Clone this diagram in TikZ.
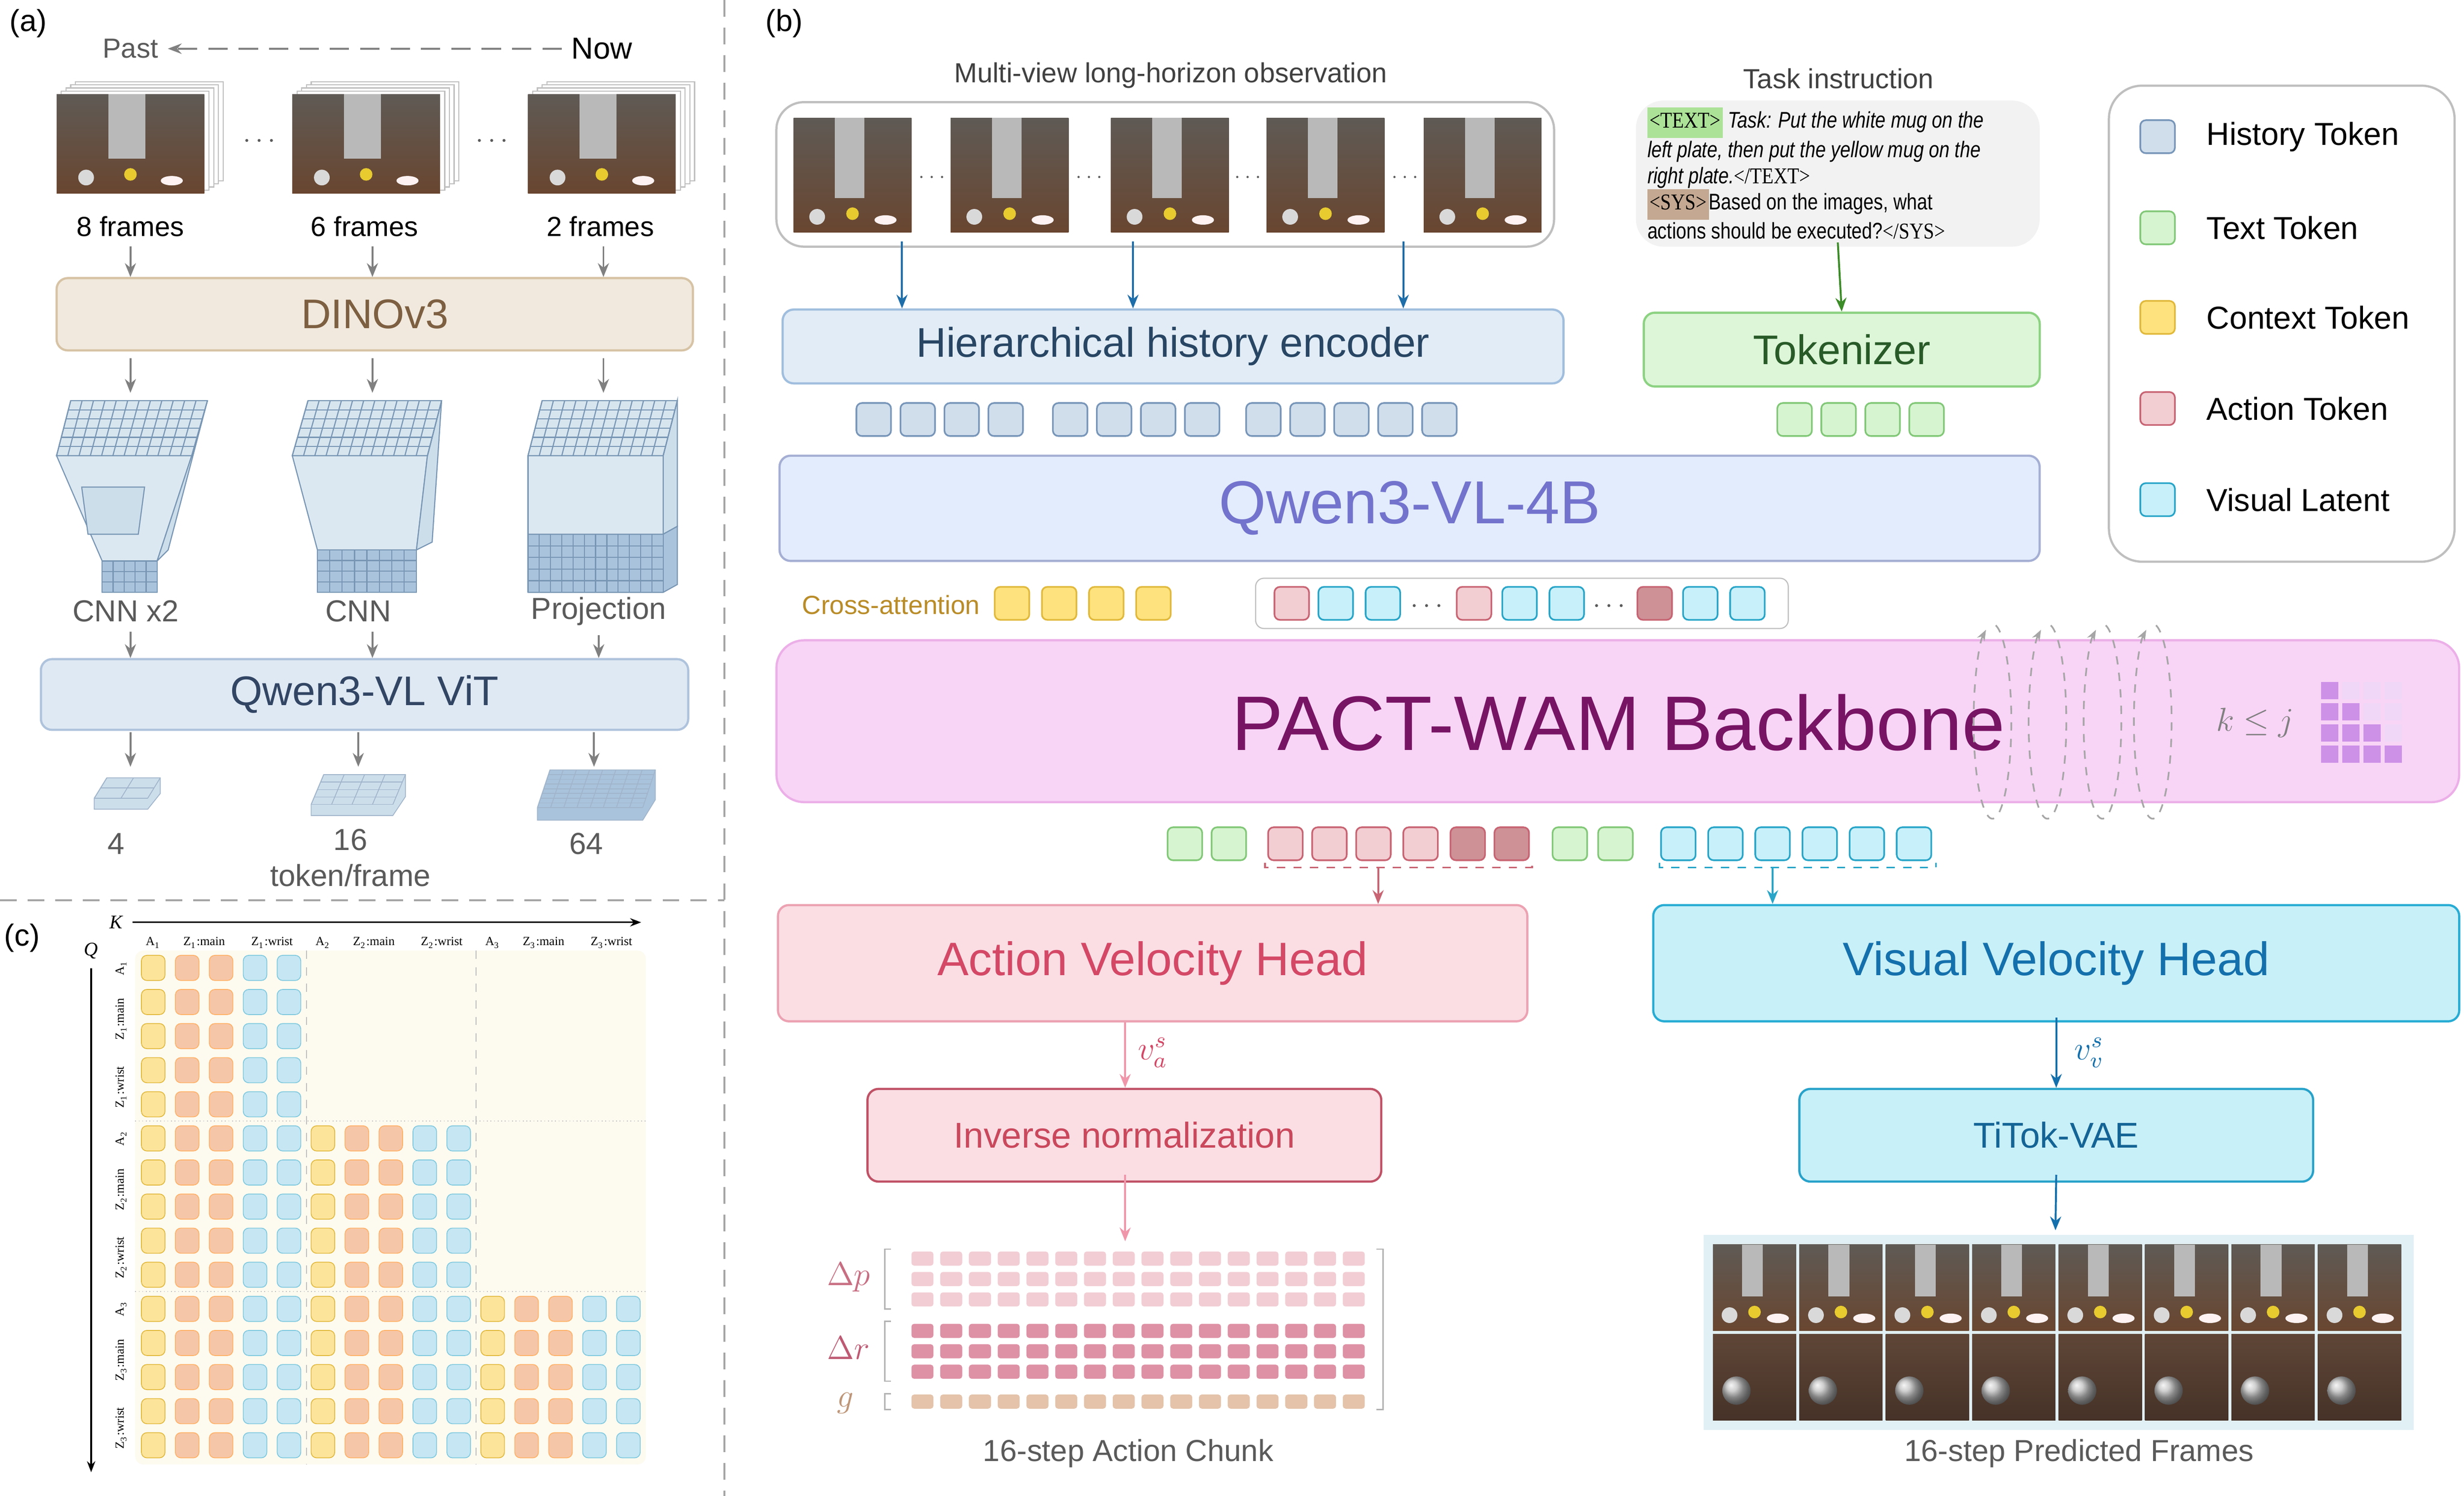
\documentclass[tikz,border=0pt]{standalone}
\usepackage{fontspec}
\setmainfont{Liberation Sans}
\newfontfamily\tms{Liberation Serif}
\newfontfamily\narrow{Liberation Sans}[FakeStretch=0.82]
\newfontfamily\tmsn{Liberation Serif}[FakeStretch=0.85]
\usetikzlibrary{calc,arrows.meta,shapes.geometric}
\definecolor{gtxt}{RGB}{90,90,90}
\definecolor{hisF}{RGB}{208,222,236}\definecolor{hisD}{RGB}{120,150,185}
\definecolor{txtF}{RGB}{214,244,208}\definecolor{txtD}{RGB}{130,200,120}
\definecolor{ctxF}{RGB}{253,226,125}\definecolor{ctxD}{RGB}{225,185,60}
\definecolor{actF}{RGB}{242,205,210}\definecolor{actD}{RGB}{200,100,115}
\definecolor{actK}{RGB}{205,145,150}
\definecolor{visF}{RGB}{200,240,250}\definecolor{visD}{RGB}{40,165,200}
\definecolor{mY}{RGB}{253,228,155}\definecolor{mO}{RGB}{246,198,168}\definecolor{mB}{RGB}{198,230,243}
\definecolor{cube}{RGB}{205,222,235}\definecolor{cubeD}{RGB}{120,150,180}
\definecolor{cubeM}{RGB}{170,195,220}
\definecolor{mbg}{RGB}{253,250,240}
\definecolor{blueA}{RGB}{30,110,170}\definecolor{greenA}{RGB}{60,140,40}
\definecolor{pinkA}{RGB}{240,150,170}\definecolor{blueB}{RGB}{20,112,172}
\definecolor{cp}{RGB}{242,205,212}\definecolor{cr}{RGB}{222,145,165}\definecolor{cg}{RGB}{228,195,170}
\definecolor{mlight}{RGB}{240,215,248}\definecolor{mdark}{RGB}{205,145,232}
\definecolor{pfbg}{RGB}{225,240,245}
\definecolor{sceneT}{RGB}{95,90,85}\definecolor{sceneB}{RGB}{105,70,48}
\definecolor{fT}{RGB}{95,70,55}\definecolor{fB}{RGB}{70,50,40}
\definecolor{tagG}{RGB}{172,226,152}\definecolor{tagS}{RGB}{196,168,145}
\tikzset{
 box/.style={draw,rounded corners=4pt,line width=0.8pt,inner sep=0pt},
 arr/.style={-{Stealth[length=5pt,width=4pt]},line width=0.7pt},
 lab/.style={font=\fontsize{10}{12}\selectfont,text=black},
 glab/.style={font=\fontsize{10}{12}\selectfont,text=gtxt},
 panel/.style={font=\fontsize{11}{13}\selectfont},
}
\newcommand\tok[3]{\draw[rounded corners=2pt,fill=#3F,draw=#3D,line width=0.6pt] (#1-11,#2-10.5) rectangle (#1+11,#2+10.5);}
\newcommand\tokc[4]{\draw[rounded corners=2pt,fill=#3,draw=#4,line width=0.6pt] (#1-11,#2-10.5) rectangle (#1+11,#2+10.5);}
\newcommand\scene[4]{%
 \shade[top color=sceneT,bottom color=sceneB] (#1,#2) rectangle (#3,#4);
 \fill[gray!55] ($(#1,#2)!0.35!(#3,#2)$) rectangle ($(#1,#4)!0.6!(#3,#4)+(0,-22)$);
 \fill[gray!30] ($(#1,#4)!0.2!(#3,#4)+(0,-10)$) circle (5);
 \fill[yellow!60!brown] ($(#1,#4)!0.5!(#3,#4)+(0,-12)$) circle (4);
 \fill[white!80!pink] ($(#1,#4)!0.78!(#3,#4)+(0,-8)$) ellipse (7 and 3);
}
\newcommand\qgrid[6]{%
 \foreach \i in {0,...,#5}{\pgfmathsetmacro\t{\i/#5}\draw ($#1!\t!#2$) -- ($#4!\t!#3$);}
 \foreach \i in {0,...,#6}{\pgfmathsetmacro\t{\i/#6}\draw ($#1!\t!#4$) -- ($#2!\t!#3$);}
}
\newcommand\tag[2]{{\setlength\fboxsep{0.8pt}\colorbox{#1}{\tmsn\strut #2}}}
\begin{document}
\begin{tikzpicture}[x=0.02cm,y=-0.02cm]
\useasboundingbox[fill=white] (0,0) rectangle (1568,952);
% separators
\draw[gray!70,line width=0.8pt,dash pattern=on 6pt off 4pt] (461,0) -- (461,952);
\draw[gray!70,line width=0.8pt,dash pattern=on 6pt off 4pt] (0,573) -- (461,573);
%================ (a)
\node[panel] (pa) at (18,15) {(a)};
\node[glab] (past) at (83,31) {Past};
\node[font=\fontsize{11}{13}\selectfont] (now) at (383,31) {Now};
\draw[gray,line width=0.8pt,dash pattern=on 7pt off 4pt,-{Stealth[length=5pt]}] (now.west) -- (past.east);
\foreach \x/\n in {36/8,186/6,336/2}{
  \foreach \k in {4,3,2,1}{\draw[gray!50,fill=white] (\x+\k*3,60-\k*2) rectangle (\x+94+\k*3,123-\k*2);}
  \scene{\x}{60}{\x+94}{123}
}
\node[gtxt] (d1) at (165,90) {$\cdots$};
\node[gtxt] (d2) at (313,90) {$\cdots$};
\node[lab] (f8) at (83,144) {8 frames};
\node[lab] (f6) at (232,144) {6 frames};
\node[lab] (f2) at (382,144) {2 frames};
\node[box,fill={rgb,255:red,241;green,233;blue,221},draw={rgb,255:red,215;green,195;blue,165},minimum width=8.1cm,minimum height=0.92cm,text={rgb,255:red,125;green,95;blue,65},font=\fontsize{15}{17}\selectfont] (dino) at (238.5,200) {DINOv3};
\foreach \x/\f in {83/f8,237/f6,384/f2}{\coordinate (c\x) at (\x,0);\draw[arr,gray] (\f.south -| c\x) -- (dino.north -| c\x);}
% prisms
\begin{scope}[draw=cubeD,line width=0.4pt]
\filldraw[fill=cube!70] (36,290) -- (122,290) -- (100,357) -- (65,357) -- cycle;
\filldraw[fill=cube] (122,290) -- (132,255) -- (107,350) -- (100,357) -- cycle;
\filldraw[fill=cube!80] (36,290) -- (45,255) -- (132,255) -- (122,290) -- cycle;
\qgrid{(45,255)}{(132,255)}{(122,290)}{(36,290)}{12}{6}
\filldraw[fill=cube] (52,310) -- (92,310) -- (88,340) -- (56,340) -- cycle;
\filldraw[fill=cubeM] (65,357) -- (100,357) -- (100,377) -- (65,377) -- cycle;
\qgrid{(65,357)}{(100,357)}{(100,377)}{(65,377)}{5}{3}
\filldraw[fill=cube!70] (186,290) -- (272,290) -- (265,350) -- (202,350) -- cycle;
\filldraw[fill=cube] (272,290) -- (281,255) -- (275,345) -- (265,350) -- cycle;
\filldraw[fill=cube!80] (186,290) -- (196,255) -- (281,255) -- (272,290) -- cycle;
\qgrid{(196,255)}{(281,255)}{(272,290)}{(186,290)}{12}{6}
\filldraw[fill=cubeM] (202,350) -- (265,350) -- (265,377) -- (202,377) -- cycle;
\qgrid{(202,350)}{(265,350)}{(265,377)}{(202,377)}{8}{4}
\filldraw[fill=cube!70] (336,290) -- (422,290) -- (422,340) -- (336,340) -- cycle;
\filldraw[fill=cube] (422,290) -- (431,255) -- (431,335) -- (422,340) -- cycle;
\filldraw[fill=cube!80] (336,290) -- (345,255) -- (431,255) -- (422,290) -- cycle;
\qgrid{(345,255)}{(431,255)}{(422,290)}{(336,290)}{12}{6}
\filldraw[fill=cubeM] (336,340) -- (422,340) -- (431,335) -- (431,372) -- (422,377) -- (336,377) -- cycle;
\qgrid{(336,340)}{(422,340)}{(422,377)}{(336,377)}{12}{5}
\end{scope}
\foreach \x in {83,237,384}{\draw[arr,gray] (\x,228) -- (\x,250);}
\node[glab,font=\fontsize{11}{13}\selectfont] (l1) at (80,389) {CNN x2};
\node[glab,font=\fontsize{11}{13}\selectfont] (l2) at (228,389) {CNN};
\node[glab,font=\fontsize{11}{13}\selectfont] (l3) at (381,389) {Projection};
\node[box,fill={rgb,255:red,223;green,233;blue,244},draw={rgb,255:red,175;green,195;blue,220},minimum width=8.24cm,minimum height=0.9cm,text={rgb,255:red,50;green,70;blue,100},font=\fontsize{15}{17}\selectfont] (vit) at (232,442) {Qwen3-VL ViT};
\foreach \x/\f in {83/l1,237/l2,381/l3}{\coordinate (e\x) at (\x,0);\draw[arr,gray] (\f.south -| e\x) -- (vit.north -| e\x);}
\foreach \x in {83,228,378}{\draw[arr,gray] (\x,466) -- (\x,488);}
\begin{scope}[draw=cubeD!70,line width=0.3pt]
\filldraw[fill=cube] (60,508) -- (68,495) -- (102,495) -- (102,505) -- (94,515) -- (60,515) -- cycle;
\qgrid{(68,495)}{(102,495)}{(94,508)}{(60,508)}{2}{2}
\filldraw[fill=cube] (198,512) -- (206,493) -- (258,493) -- (258,507) -- (250,519) -- (198,519) -- cycle;
\qgrid{(206,493)}{(258,493)}{(250,512)}{(198,512)}{4}{4}
\filldraw[fill=cubeM] (342,514) -- (350,490) -- (417,490) -- (417,509) -- (409,522) -- (342,522) -- cycle;
\qgrid{(350,490)}{(417,490)}{(409,514)}{(342,514)}{8}{8}
\end{scope}
\node[glab,font=\fontsize{11}{13}\selectfont] (n4) at (74,537) {4};
\node[glab,font=\fontsize{11}{13}\selectfont,align=center] (n16) at (223,546) {16\\token/frame};
\node[glab,font=\fontsize{11}{13}\selectfont] (n64) at (373,537) {64};
%================ (c)
\node[panel] (pc) at (14,597) {(c)};
\node[font=\tms\itshape\fontsize{7}{8}\selectfont] (K) at (74,587) {K};
\draw[-{Stealth[length=4pt]},line width=0.6pt] (K.east) -- (408,587);
\node[font=\tms\itshape\fontsize{7}{8}\selectfont] (Q) at (58,605) {Q};
\draw[-{Stealth[length=4pt]},line width=0.6pt] (Q.south) -- (58,937);
\fill[rounded corners=3pt,mbg] (86,605) rectangle (411,932);
\foreach \g in {1,2}{\draw[gray!50,dashed,line width=0.3pt] (87+\g*5*21.6,605) -- (87+\g*5*21.6,932);
  \draw[gray!50,densely dotted,line width=0.3pt] (86,605+\g*5*21.7) -- (411,605+\g*5*21.7);}
\foreach \r in {0,...,14}{
 \pgfmathtruncatemacro\gr{int(\r/5)+1}
 \pgfmathtruncatemacro\nc{5*\gr-1}
 \foreach \c in {0,...,\nc}{
  \pgfmathtruncatemacro\m{mod(\c,5)}
  \ifnum\m=0 \def\cf{mY}\def\cd{ctxD}\else\ifnum\m<3 \def\cf{mO}\def\cd{orange!60}\else\def\cf{mB}\def\cd{visD!60}\fi\fi
  \draw[rounded corners=2pt,fill=\cf,draw=\cd,line width=0.3pt] (90+\c*21.6,608+\r*21.7) rectangle (105+\c*21.6,624+\r*21.7);
 }}
\foreach \lab [count=\i from 0] in {A\textsubscript{1},Z\textsubscript{1}:main,Z\textsubscript{1}:wrist,A\textsubscript{2},Z\textsubscript{2}:main,Z\textsubscript{2}:wrist,A\textsubscript{3},Z\textsubscript{3}:main,Z\textsubscript{3}:wrist}{
 \pgfmathsetmacro\xo{mod(\i,3)==0?97.5+floor(\i/3)*108:(mod(\i,3)==1?97.5+floor(\i/3)*108+32.4:97.5+floor(\i/3)*108+75.6)}
 \node[font=\tms\fontsize{4.5}{5}\selectfont] (h\i) at (\xo,600) {\lab};
 \pgfmathsetmacro\yo{mod(\i,3)==0?616+floor(\i/3)*108.5:(mod(\i,3)==1?616+floor(\i/3)*108.5+32.5:616+floor(\i/3)*108.5+75.9)}
 \node[font=\tms\fontsize{4.5}{5}\selectfont,rotate=90] (v\i) at (77,\yo) {\lab};
}
%================ (b)
\node[panel] (pb) at (499,15) {(b)};
\node[font=\fontsize{10}{12}\selectfont,text=black!75] (mvt) at (745,48) {Multi-view long-horizon observation};
\node[draw=gray!50,rounded corners=10pt,line width=0.8pt,minimum width=9.9cm,minimum height=1.84cm,fill=white] (obs) at (741.5,111) {};
\foreach \x in {505,605,707,806,906}{\scene{\x}{75}{\x+75}{148}}
\foreach \x in {593,693,794,894}{\node[gtxt,font=\scriptsize] at (\x,113) {$\cdots$};}
\node[font=\fontsize{10}{12}\selectfont,text=black!75] (tit) at (1170,50) {Task instruction};
\node[fill={rgb,255:red,242;green,242;blue,242},rounded corners=10pt,minimum width=5.14cm,minimum height=1.86cm] (task) at (1169.5,110.5) {};
\node[anchor=north west,align=left,font=\narrow\fontsize{8.2}{9.5}\selectfont,inner sep=0pt] (tasktxt) at (1048,68) {\tag{tagG}{<TEXT>} \textit{Task: Put the white mug on the}\\ \textit{left plate, then put the yellow mug on the}\\ \textit{right plate.}{\tmsn</TEXT>}\\
\tag{tagS}{<SYS>}Based on the images, what\\ actions should be executed?{\tmsn</SYS>}};
\node[box,fill={rgb,255:red,225;green,236;blue,246},draw={rgb,255:red,160;green,190;blue,222},minimum width=9.94cm,minimum height=0.94cm,text={rgb,255:red,40;green,70;blue,100},font=\fontsize{15}{17}\selectfont] (enc) at (746.5,220.5) {Hierarchical history encoder};
\node[box,fill={rgb,255:red,220;green,246;blue,215},draw={rgb,255:red,140;green,210;blue,130},minimum width=5.04cm,minimum height=0.94cm,text={rgb,255:red,40;green,90;blue,40},font=\fontsize{15}{17}\selectfont] (tkz) at (1172,222.5) {Tokenizer};
\foreach \x in {574,721,893}{\coordinate (o\x) at (\x,0);\draw[arr,blueA] (obs.south -| o\x) ++(0,-4) -- (enc.north -| o\x);}
\draw[arr,greenA] (task.south) ++(0,-3) -- (tkz.north);
\foreach \x in {556,584,612,640,681,709,737,765,804,832,860,888,916}{\tok{\x}{267}{his}}
\foreach \x in {1142,1170,1198,1226}{\tok{\x}{267}{txt}}
\node[box,fill={rgb,255:red,226;green,236;blue,252},draw={rgb,255:red,165;green,175;blue,212},minimum width=16.04cm,minimum height=1.34cm,text={rgb,255:red,115;green,115;blue,205},font=\fontsize{22}{24}\selectfont] (qwen) at (897,323.5) {Qwen3-VL-4B};
\node[font=\fontsize{9.5}{11}\selectfont,text={rgb,255:red,185;green,140;blue,40}] (ca) at (567,385) {Cross-attention};
\foreach \x in {644,674,704,734}{\tok{\x}{384}{ctx}}
\node[draw=gray!50,rounded corners=3pt,fill=white,minimum width=6.78cm,minimum height=0.64cm] (strip) at (968.5,384) {};
\tok{822}{384}{act}\tok{850}{384}{vis}\tok{880}{384}{vis}
\node[gtxt] at (908,386) {$\cdots$};
\tok{938}{384}{act}\tok{967}{384}{vis}\tok{997}{384}{vis}
\node[gtxt] at (1024,386) {$\cdots$};
\tokc{1053}{384}{actK}{actD}\tok{1082}{384}{vis}\tok{1112}{384}{vis}
\node[box,rounded corners=10pt,fill={rgb,255:red,248;green,212;blue,246},draw={rgb,255:red,236;green,175;blue,232},minimum width=21.42cm,minimum height=2.06cm] (bb) at (1029.5,459) {};
\node[font=\fontsize{28}{30}\selectfont,text={rgb,255:red,120;green,20;blue,100}] (bbt) at (1030,460) {PACT-WAM Backbone};
\node[font=\fontsize{12}{14}\selectfont,text=gray] (kj) at (1435,460) {$k \le j$};
\foreach \r in {0,...,3}{\foreach \c in {0,...,3}{
 \ifnum\c>\r \def\mc{mlight}\else\def\mc{mdark}\fi
 \fill[\mc] (1477+\c*13.5,434+\r*13.5) rectangle (1488+\c*13.5,445+\r*13.5);}}
\foreach \x in {1268,1303,1338,1370}{
 \draw[gray!70,dashed,line width=0.6pt,-{Stealth[length=4pt]}] (\x+2,398) arc[start angle=-80,end angle=250,x radius=12,y radius=62];}
\foreach \x in {754,782}{\tok{\x}{537}{txt}}
\foreach \x in {818,846,874,904}{\tok{\x}{537}{act}}
\tokc{934}{537}{actK}{actD}\tokc{962}{537}{actK}{actD}
\foreach \x in {999,1028}{\tok{\x}{537}{txt}}
\foreach \x in {1068,1098,1128,1158,1188,1218}{\tok{\x}{537}{vis}}
\draw[actD,dashed,line width=0.6pt] (805,549) -- (805,552) -- (975,552) -- (975,549);
\draw[visD,dashed,line width=0.6pt] (1056,549) -- (1056,552) -- (1232,552) -- (1232,549);
\node[box,fill={rgb,255:red,250;green,222;blue,228},draw={rgb,255:red,236;green,162;blue,178},minimum width=9.54cm,minimum height=1.48cm,text={rgb,255:red,212;green,72;blue,102},font=\fontsize{17}{19}\selectfont] (avh) at (733.5,613) {Action Velocity Head};
\node[box,fill={rgb,255:red,200;green,240;blue,248},draw={rgb,255:red,40;green,172;blue,212},minimum width=10.26cm,minimum height=1.48cm,text={rgb,255:red,20;green,112;blue,172},font=\fontsize{17}{19}\selectfont] (vvh) at (1308.5,613) {Visual Velocity Head};
\coordinate (ab) at (877,552);\coordinate (vb) at (1128,552);
\draw[arr,actD] (ab) -- (avh.north -| ab);
\draw[arr,visD] (vb) -- (vvh.north -| vb);
\node[box,fill={rgb,255:red,250;green,222;blue,228},draw={rgb,255:red,192;green,82;blue,102},minimum width=6.54cm,minimum height=1.18cm,text={rgb,255:red,202;green,72;blue,92},font=\fontsize{13}{15}\selectfont] (inv) at (715.5,722.5) {Inverse normalization};
\node[box,fill={rgb,255:red,200;green,240;blue,248},draw={rgb,255:red,40;green,162;blue,202},minimum width=6.54cm,minimum height=1.18cm,text={rgb,255:red,20;green,100;blue,150},font=\fontsize{13}{15}\selectfont] (tit2) at (1308.5,722.5) {TiTok-VAE};
\coordinate (ax) at (716,0);
\draw[arr,pinkA] (avh.south -| ax) -- (inv.north -| ax);
\node[anchor=west,font=\fontsize{12}{14}\selectfont,text={rgb,255:red,212;green,72;blue,102},inner sep=1pt] (va) at (722,670) {$v_a^s$};
\draw[arr,blueB] (vvh.south) ++(0,-3) -- (tit2.north);
\node[anchor=west,font=\fontsize{12}{14}\selectfont,text=blueB,inner sep=1pt] (vv) at (1318,670) {$v_v^s$};
% action chunk
\coordinate (ac) at (716,790);
\draw[arr,pinkA] (inv.south -| ax) ++(0,-5) -- (ac);
\foreach \c in {0,...,15}{
 \foreach \y in {801,814,827}{\fill[rounded corners=1pt,cp] (580+\c*18.3,\y-4.5) rectangle (594+\c*18.3,\y+4.5);}
 \foreach \y in {847,860,873}{\fill[rounded corners=1pt,cr] (580+\c*18.3,\y-4.5) rectangle (594+\c*18.3,\y+4.5);}
 \fill[rounded corners=1pt,cg] (580+\c*18.3,892-4.5) rectangle (594+\c*18.3,892+4.5);
}
\draw[gray!60,line width=0.5pt] (567,795)--(563,795)--(563,833)--(567,833);
\draw[gray!60,line width=0.5pt] (567,841)--(563,841)--(563,879)--(567,879);
\draw[gray!60,line width=0.5pt] (567,887)--(563,887)--(563,897)--(567,897);
\draw[gray!60,line width=0.5pt] (876,795)--(880,795)--(880,897)--(876,897);
\node[font=\fontsize{13}{15}\selectfont,text={rgb,255:red,200;green,110;blue,130}] (dp) at (540,813) {$\Delta p$};
\node[font=\fontsize{13}{15}\selectfont,text={rgb,255:red,190;green,90;blue,115}] (dr) at (540,858) {$\Delta r$};
\node[font=\fontsize{13}{15}\selectfont,text={rgb,255:red,190;green,150;blue,120}] (gg) at (538,893) {$g$};
\node[glab,font=\fontsize{11}{13}\selectfont] (acl) at (718,925) {16-step Action Chunk};
% predicted frames
\coordinate (pf) at (1308,783);
\draw[arr,blueB] (tit2.south) ++(0,-5) -- (pf);
\fill[pfbg] (1084,786) rectangle (1536,910);
\foreach \c in {0,...,7}{
 \scene{1090+\c*55}{792}{1143+\c*55}{847}
 \shade[top color=fT,bottom color=fB] (1090+\c*55,849) rectangle (1143+\c*55,904);
 \shade[ball color=gray!50] (1105+\c*55,885) circle (9);
}
\node[glab,font=\fontsize{11}{13}\selectfont] (pfl) at (1323,925) {16-step Predicted Frames};
% legend
\node[draw=gray!50,rounded corners=12pt,line width=0.8pt,minimum width=4.4cm,minimum height=6.06cm] (leg) at (1452,206) {};
\foreach \y/\s/\t in {87/his/History Token,145/txt/Text Token,202/ctx/Context Token,260/act/Action Token,318/vis/Visual Latent}{
 \tok{1373}{\y}{\s}
 \node[anchor=west,font=\fontsize{11.5}{13}\selectfont] at (1398,\y) {\t};
}
\end{tikzpicture}
\end{document}
